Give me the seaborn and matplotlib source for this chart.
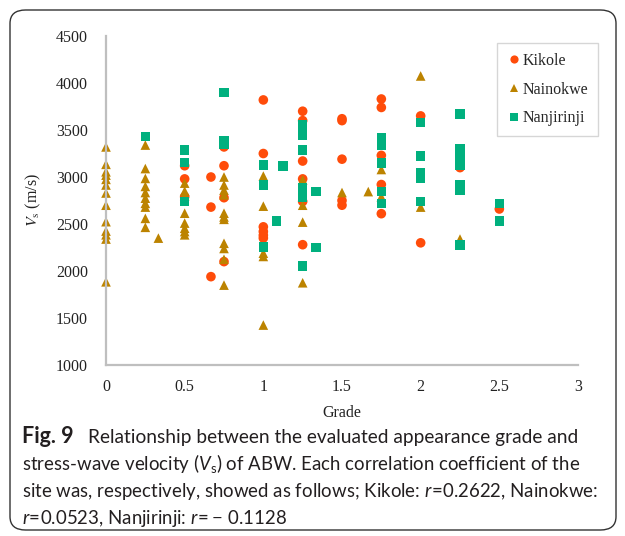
import seaborn as sns
import matplotlib.pyplot as plt
import pandas as pd
from matplotlib.patches import FancyBboxPatch

# Values (grade, stress-wave velocity in m/s)
kikole_x = [0.5, 0.5, 0.5, 0.667, 0.667, 0.667, 0.75, 0.75, 0.75, 0.75,
            1, 1, 1, 1, 1, 1, 1.25, 1.25, 1.25, 1.25, 1.25, 1.25,
            1.5, 1.5, 1.5, 1.5, 1.5, 1.75, 1.75, 1.75, 1.75, 1.75,
            2, 2, 2.25, 2.25, 2.5]
kikole_y = [3120, 2980, 2790, 3000, 2680, 1940, 3320, 3120, 2780, 2100,
            3820, 3250, 2470, 2420, 2380, 2350, 3700, 3600, 3170, 2980, 2740, 2280,
            3620, 3600, 3190, 2750, 2700, 3830, 3740, 3230, 2920, 2610,
            3650, 2300, 3230, 3100, 2660]

nainokwe_x = [0] * 13 + [0.25] * 10 + [0.333] + [0.5] * 8 + [0.75] * 11 + \
             [1] * 5 + [1.25] * 4 + [1.5, 1.667, 1.75, 1.75, 2, 2, 2.25]
nainokwe_y = [3320, 3135, 3055, 3020, 2975, 2915, 2830, 2700, 2525, 2425, 2385, 2340, 1885,
              3340, 3090, 2985, 2900, 2835, 2775, 2720, 2680, 2560, 2465,
              2350,
              2935, 2850, 2800, 2615, 2510, 2455, 2420, 2385,
              3000, 2915, 2860, 2810, 2615, 2575, 2550, 2295, 2240, 2125, 1850,
              3010, 2690, 2190, 2155, 1425,
              2970, 2700, 2520, 1875,
              2835, 2845, 3080, 2790, 4075, 2680, 2340]

nanjirinji_x = [0.25, 0.5, 0.5, 0.5, 0.75, 0.75, 0.75, 1, 1, 1, 1.083, 1.125] + \
               [1.25] * 7 + [1.333] * 2 + [1.75] * 5 + [2] * 5 + [2.25] * 8 + [2.5] * 2
nanjirinji_y = [3430, 3285, 3155, 2740, 3900, 3380, 3350, 3130, 2915, 2255, 2530, 3120,
                3555, 3445, 3285, 2880, 2830, 2790, 2055,
                2845, 2250,
                3420, 3340, 3150, 2845, 2720,
                3580, 3225, 3040, 2985, 2740,
                3670, 3300, 3250, 3180, 3130, 2915, 2860, 2280,
                2720, 2530]

sites = ['Kikole', 'Nainokwe', 'Nanjirinji']
colors = {'Kikole': '#FF4C0A', 'Nainokwe': '#BC8300', 'Nanjirinji': '#00B07E'}
markers = {'Kikole': 'o', 'Nainokwe': '^', 'Nanjirinji': 's'}

data = pd.concat([
    pd.DataFrame({'Grade': kikole_x, 'Vs': kikole_y, 'Site': 'Kikole'}),
    pd.DataFrame({'Grade': nainokwe_x, 'Vs': nainokwe_y, 'Site': 'Nainokwe'}),
    pd.DataFrame({'Grade': nanjirinji_x, 'Vs': nanjirinji_y, 'Site': 'Nanjirinji'}),
], ignore_index=True)

sns.set_style('white')
plt.rcParams['mathtext.fontset'] = 'custom'
plt.rcParams['mathtext.rm'] = 'Lato'
plt.rcParams['mathtext.it'] = 'Lato:italic'
plt.rcParams['mathtext.bf'] = 'Lato:bold'

serif = 'Liberation Serif'
fs = 11.5
fig = plt.figure(figsize=(6.25, 5.36), dpi=100)
ax = fig.add_axes([0.1696, 0.319, 0.7552, 0.6138])

sns.scatterplot(data=data, x='Grade', y='Vs', hue='Site', style='Site',
                palette=colors, markers=markers, hue_order=sites, style_order=sites,
                s=48, linewidth=0, ax=ax)
for coll in ax.collections:
    coll.set_clip_on(False)

ax.set_xlim(0, 3)
ax.set_ylim(1000, 4500)
ax.set_xticks([0, 0.5, 1, 1.5, 2, 2.5, 3])
ax.set_xticklabels(['0', '0.5', '1', '1.5', '2', '2.5', '3'])
ax.set_yticks(range(1000, 4501, 500))
for lab in ax.get_xticklabels() + ax.get_yticklabels():
    lab.set_fontfamily(serif)
    lab.set_fontsize(fs)
    lab.set_color('#222222')
ax.tick_params(axis='both', direction='out', length=4, width=1.2, color='#BFBFBF')
ax.tick_params(axis='y', pad=9)
ax.tick_params(axis='x', pad=6)
for side in ['top', 'right']:
    ax.spines[side].set_visible(False)
for side in ['left', 'bottom']:
    ax.spines[side].set_color('#BFBFBF')
    ax.spines[side].set_linewidth(1.6)
ax.grid(False)

ax.set_xlabel('Grade', fontfamily=serif, fontsize=fs, color='#222222', labelpad=7)
ax.set_ylabel(r'$V_{\mathrm{s}}$ (m/s)', fontfamily=serif, fontsize=fs, color='#222222',
              math_fontfamily='stix', labelpad=9)

leg = ax.legend(loc='upper left', bbox_to_anchor=(496.7 / 625, 1 - 43.3 / 536),
                bbox_transform=fig.transFigure, frameon=True, fancybox=False,
                prop={'family': serif, 'size': fs}, handletextpad=0.05,
                handlelength=1.0, labelspacing=0.8, borderpad=0.6, borderaxespad=0,
                markerscale=0.85)
leg.get_frame().set_edgecolor('#CCCCCC')
leg.get_frame().set_linewidth(1.0)
leg.set_title(None)

# caption
cfs = 13.4
fig.text(22 / 625, 1 - 443 / 536, 'Fig.\u00a09', family='Lato', fontweight='bold',
         fontsize=15.5, color='#231F20', va='baseline', ha='left')
cap = [(88, r'Relationship between the evaluated appearance grade and', 13.8),
       (22, r'stress-wave velocity ($V_{\mathrm{s}}$) of ABW. Each correlation coefficient of the', cfs),
       (22, r'site was, respectively, showed as follows; Kikole: $r\!=\!0.2622$, Nainokwe:', cfs),
       (22, r'$r\!=\!0.0523$, Nanjirinji: $r\!=\!-\,0.1128$', cfs)]
for i, (x0, line, size) in enumerate(cap):
    fig.text(x0 / 625, 1 - (443 + 27 * i) / 536, line, family='Lato', fontsize=size,
             color='#231F20', va='baseline', ha='left')

# rounded frame around the whole figure
frame = FancyBboxPatch((10 / 625, 6 / 536), 606 / 625, 520 / 536,
                       boxstyle='round,pad=0,rounding_size=0.025',
                       transform=fig.transFigure, fill=False,
                       edgecolor='#333333', linewidth=1.0)
fig.patches.append(frame)

plt.savefig('out.png', dpi=100)
